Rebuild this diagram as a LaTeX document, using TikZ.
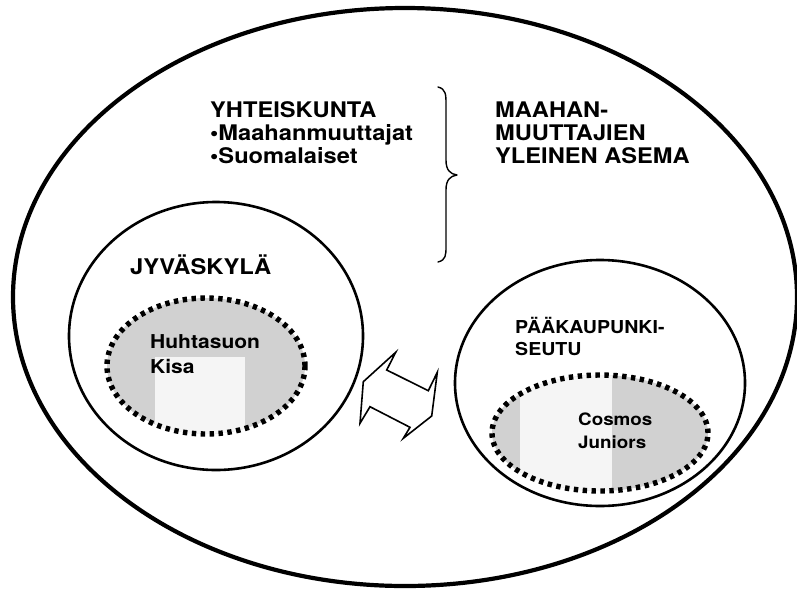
\documentclass[tikz,border=0pt]{standalone}
\usepackage{fontspec}
\setmainfont{TeX Gyre Heros}
\usetikzlibrary{shapes.geometric}
\newcommand{\widetext}[1]{\scalebox{1.1}[1]{#1}}
\tikzset{
  region/.style={draw, ellipse, inner sep=0pt, outer sep=0pt},
  club/.style={draw, ellipse, line width=5.4pt, dash pattern=on 4.4pt off 4.5pt, inner sep=0pt, outer sep=0pt},
  lbl/.style={anchor=base west, inner sep=0pt, font=\bfseries\fontsize{#1}{#1}\selectfont},
  lbl/.default=21.5,
  dither/.style={fill=black!18},
  pale/.style={fill=black!4},
  bracepen/.style={line width=1.4pt, line cap=round, line join=round},
  arrowpen/.style={draw, fill=white, line width=1.6pt, line join=miter},
}
\begin{document}
\begin{tikzpicture}[x=1pt, y=-1pt]
\useasboundingbox (0,0) rectangle (797,590);

% outer region
\node[region, line width=4.2pt, minimum width=784pt, minimum height=578pt] (world) at (405,297) {};

% Jyvaskyla
\node[region, line width=2.6pt, minimum width=294pt, minimum height=268pt] (jkl) at (216,336) {};
\fill[dither] (206,366) ellipse [x radius=99pt, y radius=68pt];
\begin{scope}
  \clip (206,366) ellipse [x radius=99pt, y radius=68pt];
  \fill[pale] (155,357) rectangle (245,440);
\end{scope}
\node[club, minimum width=198pt, minimum height=136pt] (kisa) at (206,366) {};

% Paakaupunkiseutu
\node[region, line width=2.6pt, minimum width=290pt, minimum height=246pt] (pks) at (600,383) {};
\fill[dither] (600,433) ellipse [x radius=108pt, y radius=58pt];
\begin{scope}
  \clip (600,433) ellipse [x radius=108pt, y radius=58pt];
  \fill[pale] (520,370) rectangle (612,500);
\end{scope}
\node[club, minimum width=216pt, minimum height=116pt] (cosmos) at (600,433) {};

% double arrow
\draw[arrowpen] (395.7,352.3) -- (386.7,370) -- (428.3,390.7) -- (437.3,372.3)
  -- (431.7,416) -- (403.3,438.3) -- (410,427.3) -- (370,406.7)
  -- (360,423.3) -- (363.3,381.7) -- cycle;

% brace
\draw[bracepen] (438,87) .. controls (446,89) and (446,95) .. (446,104)
  -- (446,160) .. controls (446,170) and (450,174) .. (457,175)
  .. controls (450,176) and (446,180) .. (446,190)
  -- (446,246) .. controls (446,255) and (446,260) .. (438,262);

% texts
\node[lbl] (yht) at (210,117) {\widetext{YHTEISKUNTA}};
\node[lbl] (maa) at (210,140) {\widetext{•Maahanmuuttajat}};
\node[lbl] (suo) at (210,163) {\widetext{•Suomalaiset}};
\node[lbl] (as1) at (495,117) {\widetext{MAAHAN-}};
\node[lbl] (as2) at (495,140) {\widetext{MUUTTAJIEN}};
\node[lbl] (as3) at (495,163) {\widetext{YLEINEN ASEMA}};
\node[lbl=21.6] (jkltext) at (130,274) {\widetext{JYVÄSKYLÄ}};
\node[lbl=19.1] (huh1) at (150,348) {\widetext{Huhtasuon}};
\node[lbl=19.1] (huh2) at (150,373) {\widetext{Kisa}};
\node[lbl=17.8] (pk1) at (515,333) {\widetext{PÄÄKAUPUNKI-}};
\node[lbl=17.8] (pk2) at (515,355) {\widetext{SEUTU}};
\node[lbl=17.1] (cos1) at (578,425) {\widetext{Cosmos}};
\node[lbl=17.1] (cos2) at (578,448) {\widetext{Juniors}};
\end{tikzpicture}
\end{document}
